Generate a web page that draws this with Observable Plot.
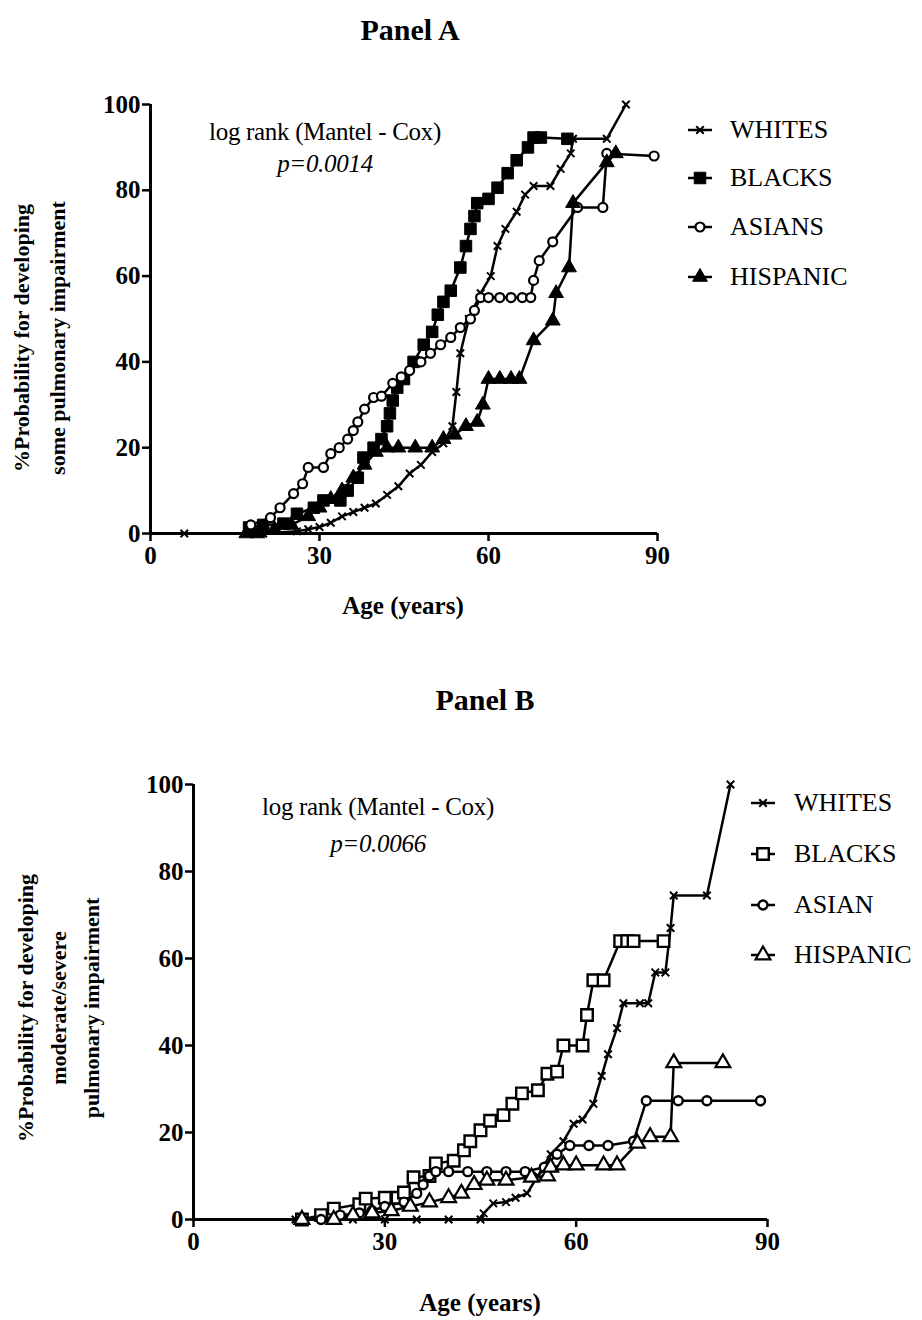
<!DOCTYPE html>
<html><head><meta charset="utf-8">
<script src="https://cdn.jsdelivr.net/npm/d3@7"></script>
<script src="https://cdn.jsdelivr.net/npm/@observablehq/plot@0.6"></script>
<style>
body{margin:0;background:#fff;}
#root{position:relative;width:922px;height:1320px;font-family:"Liberation Serif","Times New Roman",serif;color:#000;overflow:hidden;background:#fff}
.abs{position:absolute;white-space:nowrap;line-height:1;font-family:"Liberation Serif","Times New Roman",serif}
.title{font-weight:bold;font-size:30px;transform:translate(-50%,-50%)}
.xlab{font-weight:bold;font-size:25px;transform:translate(-50%,-50%)}
.ylab{font-weight:bold;font-size:22px;text-align:center;transform:translate(-50%,-50%) rotate(-90deg)}
.ann{font-size:25px;transform:translate(-50%,-50%);letter-spacing:-0.3px}
.leg{font-size:26px;display:flex;align-items:center;transform:translateY(-50%)}
.leg span{font-family:"Liberation Serif","Times New Roman",serif}
svg.plot{position:absolute;left:0}
</style></head><body><div id="root"></div>
<script>
// ---------- DATA (age in years, % probability) ----------
const xTicks = [0, 30, 60, 90];
const yTicks = [0, 20, 40, 60, 80, 100];

const seriesA = ["WHITES", "BLACKS", "ASIANS", "HISPANIC"];
const seriesB = ["WHITES", "BLACKS", "ASIAN", "HISPANIC"];

const A_WHITES = [[6,0],[20,0],[26,0.5],[28,1],[30,1.5],[32,2.5],[34,4],[36,5],[38,6],[40,7],[42,9],[44,11],[46,14],[48,16],[50,19],[52,21],[53.6,25],[54.3,33],[55,42],[56.5,50],[58.6,56],[60.4,60],[61.6,67],[63,71],[65,75],[66.5,79],[68,81],[71,81],[72.8,85],[74.6,88.6],[75,92],[81,92],[84.4,100]];
const A_BLACKS = [[17.5,1.4],[20,2],[23.6,2.3],[26,4.6],[29,6],[30.7,7.7],[33.7,7.7],[35,10],[36.8,13],[37.8,17.7],[39.6,20],[41,22],[42,25],[42.5,28],[43,31],[43.8,34],[45,36],[46.7,40],[48.5,44],[50,47],[51,51],[52,54],[53.3,56.6],[55,62],[56,67],[56.8,71],[57.5,74],[58,77],[60,78],[61.6,80.6],[63.4,84],[65,87],[67,90],[68,92.3],[69.3,92.3],[74,92]];
const A_ASIANS = [[17.8,2],[21.3,3.7],[23,6],[25.4,9.3],[27,11.6],[28,15.4],[30.7,15.4],[32,18.6],[33.5,20],[35,22],[36,24],[36.8,26],[38,29],[39.6,31.7],[41,32],[43,35],[44.5,36.5],[46,38],[48,40],[49.7,42],[51.5,44],[53.3,45.7],[55,48],[56.8,50],[57.5,52],[58.6,55],[60,55],[62,55],[64,55],[66,55],[67.5,55],[68,59],[69,63.6],[71.4,68],[75.8,76],[80.3,76],[81,88.6],[89.4,88]];
const A_HISPANIC = [[17,0],[19,0],[22,1],[25,2],[28,4],[30,6],[32,8],[34,10],[36,13],[38,16],[40,19],[42,20],[44,20],[47,20],[50,20],[52,22],[54,23],[56,25],[58,26],[59,30],[60,36],[62,36],[64,36],[65.5,36],[68,45],[71.4,49.6],[72,56],[74.3,62],[75,77],[81,86.5],[82.6,88.6]];

const B_WHITES = [[16,0],[20,0],[25,0],[30,0],[35,0],[40,0],[45,0],[45.5,1.4],[47,3.7],[49,4],[50.5,5],[52.3,6],[54,10],[56,15],[58,18],[59.6,22],[61,23],[62.7,26.6],[64,33],[65,38],[66.4,44],[67.4,49.7],[70,49.7],[71.3,49.7],[72.4,56.8],[74,56.8],[74.8,67],[75.3,74.5],[80.5,74.5],[84.2,100]];
const B_BLACKS = [[17,0],[20,1],[22,2.5],[26,3.5],[27,4.8],[30,5],[32,5],[33,6.2],[34.5,9.7],[37,10],[38,12.9],[40.8,13.5],[42.4,15.9],[43.4,18],[45,20.5],[46.5,22.7],[48.6,24],[50,26.6],[51.5,29],[54,29.7],[55.5,33.5],[57,34],[58,40],[61,40],[61.7,47],[62.7,55],[64.3,55],[66.9,64],[68,64],[69,64],[73.7,64]];
const B_ASIAN = [[17,0],[20,0],[23,1],[26,1.5],[28,2],[30,3],[33,4],[35,6],[36,8],[37,10],[38,11],[40,11],[43,11],[46,11],[49,11],[52,11],[55,12],[57,15],[59,17],[62,17],[65,17],[69,18],[71,27.3],[76,27.3],[80.5,27.3],[88.9,27.3]];
const B_HISPANIC = [[17,0],[22,0],[25,1],[28,1.5],[31,2],[34,3],[37,4],[40,5],[42,6],[44,8],[46,9],[49,9],[53,9.7],[55.5,10],[56,12],[58,12.5],[60,12.5],[64.3,12.5],[66.4,12.5],[69.6,17.5],[71.6,19],[74.8,19],[75.3,36],[83,36]];

// ---------- STYLES ----------
const styleA = {
  WHITES:   {symbol:"times",    r:3.5, fill:"none",  stroke:"black", strokeWidth:2},
  BLACKS:   {symbol:"square",   r:6.5, fill:"black", stroke:"black", strokeWidth:1},
  ASIANS:   {symbol:"circle",   r:4.5, fill:"white", stroke:"black", strokeWidth:2.2},
  HISPANIC: {symbol:"triangle", r:5.5, fill:"black", stroke:"black", strokeWidth:1}
};
const styleB = {
  WHITES:   {symbol:"times",    r:3.5, fill:"none",  stroke:"black", strokeWidth:2},
  BLACKS:   {symbol:"square",   r:6.5, fill:"white", stroke:"black", strokeWidth:2.4},
  ASIAN:    {symbol:"circle",   r:4.5, fill:"white", stroke:"black", strokeWidth:2.4},
  HISPANIC: {symbol:"triangle", r:5.5, fill:"white", stroke:"black", strokeWidth:2.2}
};

const root = document.getElementById("root");

function toRows(names, arrays) {
  const rows = [];
  names.forEach((g, i) => arrays[i].forEach(([age, pct]) => rows.push({group: g, age, pct})));
  return rows;
}

function makePanel({names, arrays, styles, top, marginLeft, marginRight, marginBottom}) {
  const rows = toRows(names, arrays);
  const svg = Plot.plot({
    width: 922, height: 560,
    marginLeft, marginRight, marginTop: 24, marginBottom,
    style: {fontFamily: "Liberation Serif, Times New Roman, serif", fontSize: "25px", fontWeight: "bold", color: "black", background: "transparent", overflow: "visible"},
    x: {domain: [0, 90]},
    y: {domain: [0, 100]},
    marks: [
      Plot.axisY({ticks: yTicks, tickSize: 8, tickPadding: 2, strokeWidth: 2.5, label: null, fontSize: 25, fontWeight: "bold"}),
      Plot.axisX({ticks: xTicks, tickSize: 8, tickPadding: 5, strokeWidth: 2.5, label: null, fontSize: 25, fontWeight: "bold"}),
      Plot.ruleX([0], {strokeWidth: 3}),
      Plot.ruleY([0], {strokeWidth: 3}),
      Plot.line(rows, {x: "age", y: "pct", z: "group", stroke: "black", strokeWidth: 2.5}),
      ...names.map(g => Plot.dot(rows.filter(d => d.group === g), {x: "age", y: "pct", ...styles[g]}))
    ]
  });
  svg.classList.add("plot");
  svg.style.top = top + "px";
  root.appendChild(svg);
}

function addText(cls, text, x, y, extra) {
  const d = document.createElement("div");
  d.className = "abs " + cls;
  d.style.left = x + "px"; d.style.top = y + "px";
  if (extra) Object.assign(d.style, extra);
  d.innerHTML = text;
  root.appendChild(d);
  return d;
}

const symbolTypes = {times: d3.symbolTimes, square: d3.symbolSquare, circle: d3.symbolCircle, triangle: d3.symbolTriangle};

function addLegend(names, styles, x, ys, gap) {
  names.forEach((g, i) => {
    const s = styles[g];
    const d = document.createElement("div");
    d.className = "abs leg";
    d.style.left = x + "px"; d.style.top = ys[i] + "px";
    const path = d3.symbol(symbolTypes[s.symbol], s.r * s.r * Math.PI)();
    d.innerHTML = `<svg width="28" height="22" style="overflow:visible"><line x1="2" x2="26" y1="11" y2="11" stroke="black" stroke-width="2.5"/>` +
      `<path d="${path}" transform="translate(14,11)" fill="${s.fill}" stroke="${s.stroke}" stroke-width="${s.strokeWidth}"/></svg>` +
      `<span style="margin-left:${gap}px">${g}</span>`;
    root.appendChild(d);
  });
}

// ---------- PANEL A ----------
addText("title", "Panel A", 410, 30);
makePanel({names: seriesA, arrays: [A_WHITES, A_BLACKS, A_ASIANS, A_HISPANIC], styles: styleA, top: 80, marginLeft: 150, marginRight: 265, marginBottom: 107});
addText("ylab", "%Probability for developing<br>some pulmonary impairment", 40, 338, {lineHeight: "36px"});
addText("xlab", "Age (years)", 403, 605);
addText("ann", "log rank (Mantel - Cox)", 325, 131);
addText("ann", "<i>p=0.0014</i>", 325, 163);
addLegend(seriesA, styleA, 686, [130, 178, 227, 277], 16);

// ---------- PANEL B ----------
addText("title", "Panel B", 485, 700);
makePanel({names: seriesB, arrays: [B_WHITES, B_BLACKS, B_ASIAN, B_HISPANIC], styles: styleB, top: 760, marginLeft: 193, marginRight: 155, marginBottom: 101});
addText("ylab", "%Probability for developing<br>moderate/severe<br>pulmonary impairment", 58, 1008, {lineHeight: "33px"});
addText("xlab", "Age (years)", 480, 1302);
addText("ann", "log rank (Mantel - Cox)", 378, 806);
addText("ann", "<i>p=0.0066</i>", 378, 843);
addLegend(seriesB, styleB, 749, [803, 854, 905, 955], 17);
</script></body></html>
